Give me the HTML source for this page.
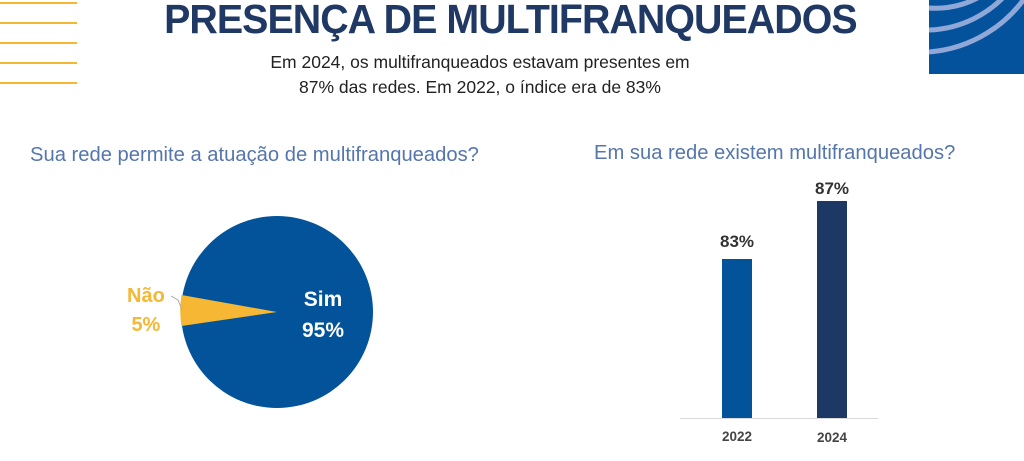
<!DOCTYPE html>
<html><head><meta charset="utf-8"><style>
body{margin:0;width:1024px;height:461px;background:#fff;overflow:hidden;position:relative;font-family:"Liberation Sans",sans-serif}
.t{position:absolute;white-space:nowrap}
</style></head><body>
<svg width="1024" height="461" style="position:absolute;left:0;top:0">
<g stroke="#f5b731" stroke-width="2">
<line x1="0" y1="3" x2="77" y2="3"/><line x1="0" y1="23" x2="77" y2="23"/><line x1="0" y1="43" x2="77" y2="43"/><line x1="0" y1="63" x2="77" y2="63"/><line x1="0" y1="83" x2="77" y2="83"/>
</g>
<rect x="929" y="0" width="95" height="74" fill="#03529b"/>
<g fill="none" stroke="#8fa8d8" stroke-width="5">
<path d="M929 8 A90 90 0 0 0 990 -10"/>
<path d="M929 30 A110 110 0 0 0 1010 -10"/>
<path d="M929 52 A130 130 0 0 0 1030 -10"/>
</g>
<circle cx="277" cy="312" r="96" fill="#03539a"/>
<path d="M277 312 L181.5 295 A96 96 0 0 0 181.5 326 Z" fill="#f6b734"/>
<path d="M171 296 L178 300 L182 310" fill="none" stroke="#aaa" stroke-width="1"/>
<line x1="680" y1="418.5" x2="878" y2="418.5" stroke="#d9d9d9" stroke-width="1"/>
<rect x="722" y="259" width="30" height="159" fill="#03539a"/>
<rect x="817" y="201" width="30" height="217" fill="#1d3865"/>
</svg>
<div class="t" style="left:150px;top:-4px;width:705px;text-align:center;font-size:41px;font-weight:bold;color:#1f3864;letter-spacing:-1px;transform:scaleX(0.96);transform-origin:center">PRESENÇA DE MULTIFRANQUEADOS</div>
<div class="t" style="left:230px;top:50px;width:500px;text-align:center;font-size:17.5px;color:#222;line-height:25px">Em 2024, os multifranqueados estavam presentes em<br>87% das redes. Em 2022, o índice era de 83%</div>
<div class="t" style="left:30px;top:144px;font-size:20.2px;color:#5576ad">Sua rede permite a atuação de multifranqueados?</div>
<div class="t" style="left:594px;top:142px;font-size:20.2px;color:#5576ad">Em sua rede existem multifranqueados?</div>
<div class="t" style="left:127px;top:282px;font-size:20px;font-weight:bold;color:#f6b734;line-height:29px;text-align:center">Não<br>5%</div>
<div class="t" style="left:302px;top:284px;font-size:21px;font-weight:bold;color:#fff;line-height:31px;text-align:center">Sim<br>95%</div>
<div class="t" style="left:707px;top:232px;width:60px;text-align:center;font-size:17px;font-weight:bold;color:#333">83%</div>
<div class="t" style="left:802px;top:179px;width:60px;text-align:center;font-size:17px;font-weight:bold;color:#333">87%</div>
<div class="t" style="left:707px;top:429px;width:60px;text-align:center;font-size:13.5px;font-weight:bold;color:#444">2022</div>
<div class="t" style="left:802px;top:430px;width:60px;text-align:center;font-size:13.5px;font-weight:bold;color:#444">2024</div>
</body></html>
